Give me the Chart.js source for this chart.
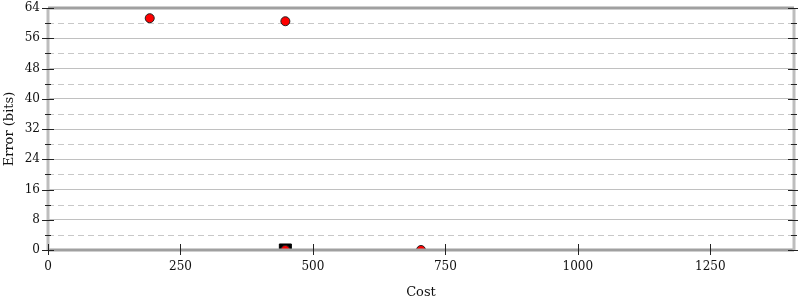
<!DOCTYPE html>
<html lang="en">
<head>
    <meta charset="UTF-8">
    <title>Error vs Cost</title>
    <script src="https://cdn.jsdelivr.net/npm/chart.js"></script>
    <style>
        body {
            margin: 0;
            background: #ffffff;
        }
        #wrap {
            width: 800px;
            height: 300px;
        }
    </style>
</head>
<body>
    <div id="wrap"><canvas id="chart" width="800" height="300"></canvas></div>

    <script>
        // Data
        const costs = [192, 448, 448, 704];
        const errors = [61.3, 60.5, 0, 0];
        const squareCosts = [448];
        const squareErrors = [0];

        const xTicks = [0, 250, 500, 750, 1000, 1250];
        const yTicks = [0, 8, 16, 24, 32, 40, 48, 56, 64];
        const yMinorTicks = [4, 12, 20, 28, 36, 44, 52, 60];
        const xMax = 1408;
        const yMax = 64;

        const font = 'DejaVu Serif';

        // dashed minor grid below the points
        const minorGrid = {
            id: 'minorGrid',
            beforeDatasetsDraw(chart) {
                const { ctx, chartArea: a, scales } = chart;
                ctx.save();
                ctx.lineWidth = 1;
                ctx.strokeStyle = '#c8c8c8';
                ctx.setLineDash([6, 4]);
                yMinorTicks.forEach(v => {
                    const py = Math.round(scales.y.getPixelForValue(v)) + 0.5;
                    ctx.beginPath();
                    ctx.moveTo(a.left, py);
                    ctx.lineTo(a.right, py);
                    ctx.stroke();
                });
                ctx.restore();
            }
        };

        // axis frame and tick marks crossing the axes, over the points
        const frame = {
            id: 'frame',
            afterDatasetsDraw(chart) {
                const { ctx, chartArea: a, scales } = chart;
                const y = scales.y, x = scales.x;
                ctx.save();
                ctx.strokeStyle = '#a0a0a0';
                ctx.lineWidth = 3;
                ctx.beginPath();
                ctx.moveTo(a.left, a.top); ctx.lineTo(a.right, a.top);
                ctx.moveTo(a.left, a.bottom); ctx.lineTo(a.right, a.bottom);
                ctx.stroke();
                ctx.strokeStyle = '#bdbdbd';
                ctx.beginPath();
                ctx.moveTo(a.left, a.top); ctx.lineTo(a.left, a.bottom);
                ctx.moveTo(a.right, a.top); ctx.lineTo(a.right, a.bottom);
                ctx.stroke();

                ctx.strokeStyle = '#222';
                ctx.lineWidth = 1;
                ctx.beginPath();
                yTicks.forEach(v => {
                    const py = Math.round(y.getPixelForValue(v)) + 0.5;
                    ctx.moveTo(a.left - 6, py); ctx.lineTo(a.left + 6, py);
                    ctx.moveTo(a.right - 6, py); ctx.lineTo(a.right + 4, py);
                });
                yMinorTicks.forEach(v => {
                    const py = Math.round(y.getPixelForValue(v)) + 0.5;
                    ctx.moveTo(a.left - 3, py); ctx.lineTo(a.left + 3, py);
                    ctx.moveTo(a.right - 3, py); ctx.lineTo(a.right + 3, py);
                });
                xTicks.forEach(v => {
                    const px = Math.round(x.getPixelForValue(v)) + 0.5;
                    ctx.moveTo(px, a.bottom - 6); ctx.lineTo(px, a.bottom + 5);
                });
                ctx.stroke();
                ctx.restore();
            }
        };

        new Chart(document.getElementById('chart'), {
            type: 'scatter',
            data: {
                datasets: [{
                    label: 'points',
                    data: costs.map((c, i) => ({ x: c, y: errors[i] })),
                    backgroundColor: '#ff0000',
                    borderColor: '#222',
                    borderWidth: 1,
                    pointRadius: 4.5,
                    pointStyle: 'circle',
                    clip: { left: 10, right: 10, top: 10, bottom: 0 }
                }, {
                    label: 'best',
                    data: squareCosts.map((c, i) => ({ x: c, y: squareErrors[i] })),
                    backgroundColor: '#000000',
                    borderColor: '#000000',
                    borderWidth: 1,
                    pointRadius: 8.5,
                    pointStyle: 'rect',
                    clip: { left: 10, right: 10, top: 10, bottom: 0 }
                }]
            },
            options: {
                responsive: false,
                animation: false,
                layout: {
                    autoPadding: false,
                    padding: { top: 8, right: 6, left: 0, bottom: 0 }
                },
                plugins: {
                    legend: { display: false },
                    tooltip: { enabled: false }
                },
                scales: {
                    x: {
                        type: 'linear',
                        min: 0,
                        max: xMax,
                        afterBuildTicks: s => { s.ticks = xTicks.map(v => ({ value: v })); },
                        afterFit: s => {
                            s.height = 50;
                            s.paddingLeft = 0;
                            s.paddingRight = 0;
                        },
                        grid: { display: false, drawTicks: false },
                        border: { display: false },
                        ticks: {
                            padding: 10,
                            color: '#111',
                            callback: v => String(v),
                            font: { family: font, size: 12 }
                        },
                        title: {
                            display: true,
                            text: 'Cost',
                            color: '#111',
                            padding: { top: 6, bottom: 0 },
                            font: { family: font, size: 13 }
                        }
                    },
                    y: {
                        min: 0,
                        max: yMax,
                        afterBuildTicks: s => { s.ticks = yTicks.map(v => ({ value: v })); },
                        afterFit: s => {
                            s.width = 48;
                            s.paddingTop = 0;
                            s.paddingBottom = 0;
                        },
                        grid: { color: '#c0c0c0', lineWidth: 1, drawTicks: false },
                        border: { display: false },
                        ticks: {
                            padding: 8,
                            color: '#111',
                            font: { family: font, size: 12 }
                        },
                        title: {
                            display: true,
                            text: 'Error (bits)',
                            color: '#111',
                            padding: { top: 2, bottom: 4 },
                            font: { family: font, size: 13 }
                        }
                    }
                }
            },
            plugins: [minorGrid, frame]
        });
    </script>
</body>
</html>
